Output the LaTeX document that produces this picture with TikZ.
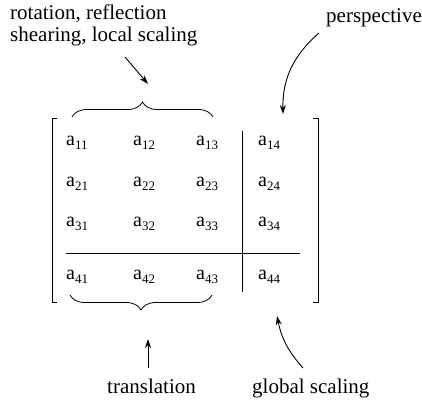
\documentclass[tikz,border=0pt]{standalone}
\usepackage{fontspec}
\setmainfont{Liberation Serif}
\usetikzlibrary{arrows.meta, decorations.pathreplacing}
\newcommand{\entry}[1]{a\raisebox{-4pt}{\fontsize{13}{13}\selectfont #1}}

\begin{document}
\begin{tikzpicture}[x=1pt, y=-1pt,
    lbl/.style={inner sep=0pt, font=\fontsize{21}{22}\selectfont},
    ent/.style={inner sep=0pt, anchor=base west, font=\fontsize{20}{22}\selectfont},
    arr/.style={-{Stealth[length=9pt, width=6pt]}, line width=0.9pt},
    brc/.style={decorate, decoration={brace, amplitude=15pt}, line width=0.8pt},
    rule/.style={line width=0.9pt}]
    \useasboundingbox (0,0) rectangle (422,400);
    % labels
    \node[lbl, anchor=base west, align=left] (rot) at (10,41) {rotation, reflection\\shearing, local scaling};
    \node[lbl, anchor=base west] (persp) at (326,22) {perspective};
    \node[lbl, anchor=base west] (trans) at (107,393) {translation};
    \node[lbl, anchor=base west] (glob) at (252,393) {global scaling};
    % entries
    \foreach \r/\y in {1/145,2/186,3/226,4/279} {
      \foreach \c/\x in {1/66,2/133,3/196,4/258} {
        \node[ent] (a\r\c) at (\x,\y) {\entry{\r\c}};
      }
    }
    % brackets and partition lines
    \draw[rule] (57,118) -- (52,118) -- (52,302) -- (57,302);
    \draw[rule] (313,118) -- (318,118) -- (318,302) -- (313,302);
    \draw[rule] (242,131) -- (242,292);
    \draw[rule] (66,253) -- (300,253);
    % braces
    \draw[brc] (72,117) -- (213,117) coordinate[midway] (topmid);
    \draw[brc] (212,295) -- (70,295) coordinate[midway] (botmid);
    % arrows
    \coordinate (r1) at (125,57);
    \coordinate (r2) at (148,84);
    \coordinate (p1) at (319,33);
    \coordinate (p2) at (283,114);
    \coordinate (t1) at (148,368);
    \coordinate (t2) at (148,339);
    \coordinate (g1) at (303,368);
    \coordinate (g2) at (277,316);
    \draw[arr] (r1) -- (r2);
    \draw[arr] (p1) to[bend right=25] (p2);
    \draw[arr] (t1) -- (t2);
    \draw[arr] (g1) to[bend left=15] (g2);
  \end{tikzpicture}
\end{document}
